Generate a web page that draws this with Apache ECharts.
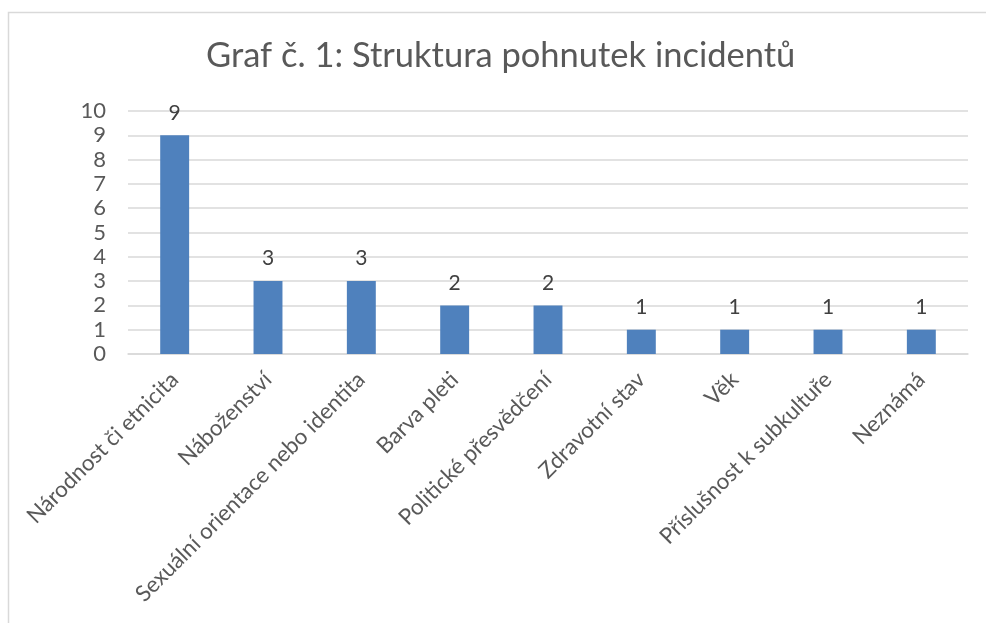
<!DOCTYPE html>
<html><head><meta charset="utf-8">
<script src="https://cdn.jsdelivr.net/npm/echarts@6/dist/echarts.min.js"></script>
<style>html,body{margin:0;padding:0;background:#fff}#c{width:986px;height:623px}</style>
</head><body><div id="c"></div>
<script>
const titleText = 'Graf č. 1: Struktura pohnutek incidentů';
const categories = ['Národnost či etnicita','Náboženství','Sexuální orientace nebo identita','Barva pleti','Politické přesvědčení','Zdravotní stav','Věk','Příslušnost k subkultuře','Neznámá'];
const values = [9,3,3,2,2,1,1,1,1];
const yTicks = [0,10,1];
const FONT = 'Lato';
const chart = echarts.init(document.getElementById('c'));
chart.setOption({
  animation:false,
  backgroundColor:'#fff',
  textStyle:{fontFamily:FONT},
  graphic:[{type:'rect',shape:{x:8.5,y:12.5,width:1100,height:700},style:{fill:'none',stroke:'#d9d9d9',lineWidth:1.5},silent:true}],
  title:{text:titleText,left:206,top:38,padding:0,textStyle:{fontFamily:FONT,fontSize:34.5,fontWeight:'normal',color:'#595959'}},
  grid:{left:128,right:18,top:111,bottom:269,containLabel:false},
  xAxis:{type:'category',data:categories,
    axisLine:{show:true,lineStyle:{color:'#d9d9d9',width:1.5}},axisTick:{show:false},
    axisLabel:{rotate:45,interval:0,margin:22,color:'#595959',fontSize:22.3,fontFamily:FONT}},
  yAxis:{type:'value',min:yTicks[0],max:yTicks[1],interval:yTicks[2],
    axisLine:{show:false},axisTick:{show:false},
    splitLine:{lineStyle:{color:'#d9d9d9',width:1.5}},
    axisLabel:{margin:22,color:'#595959',fontSize:22,fontFamily:FONT}},
  series:[{type:'bar',data:values,barWidth:'31%',itemStyle:{color:'#4f81bd'},
    label:{show:true,position:'top',distance:12,color:'#404040',fontSize:21,fontFamily:FONT}}]
});
</script></body></html>
